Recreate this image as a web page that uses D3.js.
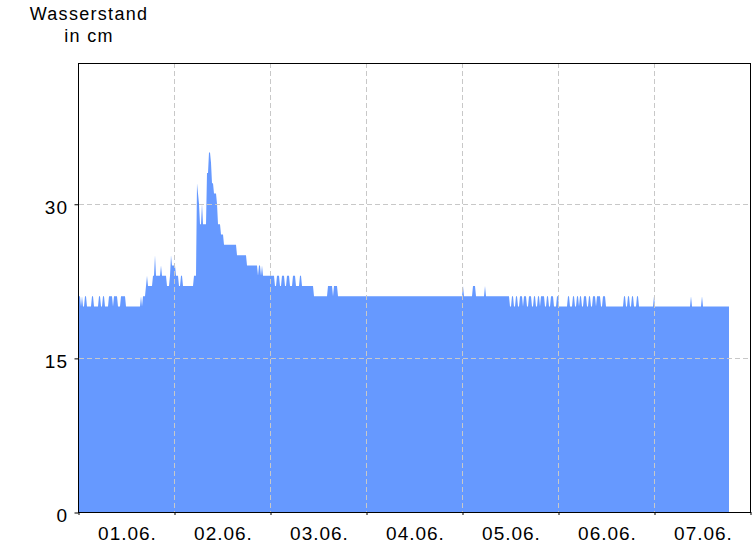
<!DOCTYPE html>
<html>
<head>
<meta charset="utf-8">
<script src="https://cdn.jsdelivr.net/npm/d3@7"></script>
<style>
  html, body { margin: 0; padding: 0; background: #fff; }
  svg { display: block; }
  text { font-family: "Liberation Sans", Arial, sans-serif; fill: #000; }
</style>
</head>
<body>
<svg id="chart" width="756" height="546"></svg>
<script>
// ---- data (15-minute samples starting 01.06. 00:00, water level in cm) ----
const startDate = Date.UTC(2024, 5, 1);
const stepMinutes = 15;
// runs of [level cm, number of consecutive 15-min samples]
const levelRuns = [
  [21,2],[20,1],[21,1],[20,2],[21,2],[20,5],[21,2],[20,5],[21,2],[20,2],
  [21,2],[20,4],[21,4],[20,1],[21,4],[20,3],[21,5],[20,15],[21,1],[20,1],
  [21,3],[22,1],[23,1],[22,5],[23,2],[25,1],[23,5],[24,1],[23,5],[22,3],
  [23,1],[25,1],[24,4],[23,3],[22,2],[23,2],[22,11],[23,3],
  [32,1],[31,1],[30,1],[28,2],[30,1],[28,4],[33,2],[35,2],[34,1],[32,2],
  [31,3],[30,1],[28,3],[27,3],[26,13],[25,10],[24,11],[23,1],[24,2],[23,1],
  [24,1],[23,12],[22,2],[23,3],[22,2],[23,3],[22,2],[23,3],[22,3],[23,3],
  [22,4],[23,2],[22,12],[21,14],[22,5],[21,1],[22,4],[21,125],[22,1],[21,9],
  [22,3],[21,9],[22,1],[21,24],
  [20,2],[21,2],[20,2],[21,2],[20,2],[21,3],[20,1],[21,3],[20,2],[21,3],
  [20,2],[21,2],[20,2],[21,2],[20,1],[21,4],[20,2],[21,2],[20,2],[21,3],
  [20,3],[21,2],[20,9],
  [21,2],[20,3],[21,2],[20,2],[21,2],[20,1],[21,2],[20,2],[21,3],[20,2],
  [21,2],[20,2],[21,3],[20,1],[21,4],[20,2],[21,3],[20,18],
  [21,2],[20,2],[21,2],[20,2],[21,2],[20,3],[21,2],[20,15],[21,1],[20,36],
  [21,1],[20,10],[21,1],[20,27]
];
const dayLabels = ["01.06.","02.06.","03.06.","04.06.","05.06.","06.06.","07.06."];
const yTicks = [0, 15, 30];
const yMax = 43.7;
const titleLines = ["Wasserstand", "in cm"];

// expand runs into samples
const series = [];
levelRuns.forEach(([v, n]) => {
  for (let k = 0; k < n; k++) {
    series.push({ t: new Date(startDate + series.length * stepMinutes * 60000), v });
  }
});

const svg = d3.select("#chart");
const m = { left: 79, right: 751, top: 63, bottom: 512 };
const dayMs = 86400000;

const x = d3.scaleUtc()
  .domain([new Date(startDate), new Date(startDate + 7 * dayMs)])
  .range([m.left, m.right]);
const y = d3.scaleLinear().domain([0, yMax]).range([m.bottom, m.top]);

svg.append("defs").append("clipPath").attr("id", "clip")
  .append("rect").attr("x", m.left).attr("y", m.top)
  .attr("width", m.right - m.left).attr("height", m.bottom - m.top);

// area
const area = d3.area()
  .x(d => x(d.t)).y0(y(0)).y1(d => y(d.v))
  .curve(d3.curveLinear);
svg.append("path").datum(series)
  .attr("clip-path", "url(#clip)")
  .attr("fill", "#6699ff")
  .attr("d", area);

// grid lines (on top of area)
const dayTicks = d3.range(0, 8).map(i => new Date(startDate + i * dayMs));
const grid = svg.append("g").attr("stroke", "#c8c8c8").attr("stroke-width", 1)
  .attr("stroke-dasharray", "5,3").attr("fill", "none");
dayTicks.slice(1, 7).forEach(d => {
  const xx = Math.round(x(d)) - 0.5;
  grid.append("line").attr("x1", xx).attr("x2", xx).attr("y1", m.top).attr("y2", m.bottom);
});
yTicks.filter(v => v > 0).forEach(v => {
  const yy = Math.round(y(v)) + 0.5;
  grid.append("line").attr("x1", m.left).attr("x2", m.right).attr("y1", yy).attr("y2", yy);
});

// frame
svg.append("rect")
  .attr("x", m.left - 0.5).attr("y", m.top + 0.5)
  .attr("width", m.right - m.left).attr("height", m.bottom - m.top)
  .attr("fill", "none").attr("stroke", "#000").attr("stroke-width", 1);

// x axis ticks & labels
const xAxis = d3.axisBottom(x).tickValues(dayTicks).tickSize(3).tickFormat("");
const gx = svg.append("g").attr("transform", `translate(-0.5,${m.bottom})`).call(xAxis);
gx.select(".domain").remove();
gx.selectAll("line").attr("stroke", "#000");
svg.append("g").selectAll("text").data(dayLabels).join("text")
  .attr("x", (d, i) => x(new Date(startDate + i * dayMs + dayMs / 2)) + 0.5)
  .attr("y", 540)
  .attr("text-anchor", "middle")
  .attr("font-size", 19)
  .attr("letter-spacing", 1)
  .text(d => d);

// y axis ticks & labels
const yAxis = d3.axisLeft(y).tickValues(yTicks).tickSize(4).tickFormat("");
const gy = svg.append("g").attr("transform", `translate(${m.left - 0.5},0.5)`).call(yAxis);
gy.select(".domain").remove();
gy.selectAll("line").attr("stroke", "#000");
svg.append("g").selectAll("text").data(yTicks).join("text")
  .attr("x", 68)
  .attr("y", d => y(d) + 10)
  .attr("text-anchor", "end")
  .attr("font-size", 19)
  .attr("letter-spacing", 1)
  .text(d => d);

// title
svg.append("text").attr("x", 89).attr("y", 20).attr("text-anchor", "middle")
  .attr("font-size", 18).attr("letter-spacing", 1.3).text(titleLines[0]);
svg.append("text").attr("x", 89).attr("y", 42).attr("text-anchor", "middle")
  .attr("font-size", 18).attr("letter-spacing", 1.3).text(titleLines[1]);
</script>
</body>
</html>
